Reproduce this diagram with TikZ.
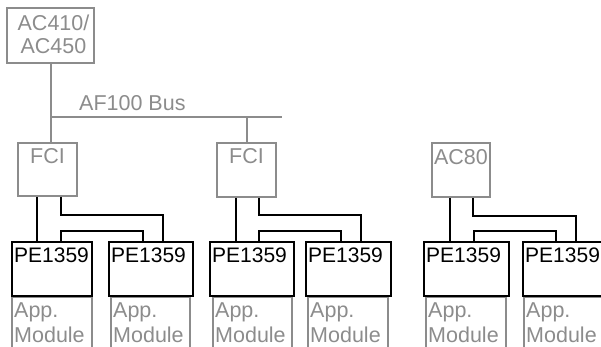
\documentclass[tikz,border=0pt]{standalone}
\usepackage{fontspec}
\setmainfont{Liberation Sans}
\definecolor{gline}{RGB}{140,140,140}
\begin{document}
\begin{tikzpicture}[x=1pt,y=-1pt,
  gbox/.style={draw=gline,line width=1.7pt,inner sep=0pt},
  kbox/.style={draw=black,line width=2pt,inner sep=0pt},
  gconn/.style={draw=gline,line width=1.7pt},
  conn/.style={draw=black,line width=2pt},
  gtxt/.style={text=gline,inner sep=0pt,font=\fontsize{21.5}{25}\selectfont},
  ktxt/.style={text=black,inner sep=0pt,font=\fontsize{21}{25}\selectfont}]
\useasboundingbox (0,0) rectangle (601,346);
% gray controller boxes
\node[gbox,minimum width=87pt,minimum height=55pt] (ac410) at (50.5,35.5) {};
\node[gbox,minimum width=59pt,minimum height=53pt] (fci1) at (47.5,169.5) {};
\node[gbox,minimum width=59pt,minimum height=54pt] (fci2) at (246.5,170) {};
\node[gbox,minimum width=58pt,minimum height=54pt] (ac80) at (461,170) {};
\node[gtxt,anchor=base] (t410) at (53.5,30) {AC410/};
\node[gtxt,anchor=base] (t450) at (53.5,53) {AC450};
\node[gtxt,anchor=base] (tfci1) at (47.5,163) {FCI};
\node[gtxt,anchor=base] (tfci2) at (246.5,163) {FCI};
\node[gtxt,anchor=base] (tac80) at (461,164) {AC80};
% bus
\coordinate (busL) at (51,117);
\coordinate (busR) at (282,117);
\draw[gconn] (51,0 |- ac410.south) -- (51,0 |- fci1.north);
\draw[gconn] (busL) -- (busR);
\draw[gconn] (247,0 |- busL) -- (247,0 |- fci2.north);
\node[gtxt,anchor=base west] (bus) at (79,110) {AF100 Bus};
% app module boxes (open at bottom)
\foreach \n/\l/\r in {1/12/92,2/111/190,3/213/292,4/308/388,5/426/506,6/524/612}{
  \draw[gconn] (\l,360) -- (\l,297) -- (\r,297) -- (\r,360);
  \node[gtxt,anchor=base west] (app\n) at (\l+2,317) {App.};
  \node[gtxt,anchor=base west] (mod\n) at (\l+2,342) {Module};
}
% PE1359 boxes
\foreach \n/\l/\r/\t in {1/11/91/14,2/108/192/111,3/209/293/212,4/305/390/308,5/423/508/426,6/522/607/525}{
  \node[kbox,anchor=north west,minimum width={\r-\l},minimum height=54pt] (pe\n) at (\l,241) {};
  \node[ktxt,anchor=base west] (tpe\n) at (\t,262) {PE1359};
}
% connectors FCI1
\draw[conn] (37,0 |- fci1.south) -- (37,0 |- pe1.north);
\draw[conn] (61,0 |- fci1.south) |- (163,215) -- (163,0 |- pe2.north);
\draw[conn] (61,0 |- pe1.north) |- (143,231) -- (143,0 |- pe2.north);
% connectors FCI2
\draw[conn] (236,0 |- fci2.south) -- (236,0 |- pe3.north);
\draw[conn] (259,0 |- fci2.south) |- (361,215) -- (361,0 |- pe4.north);
\draw[conn] (259,0 |- pe3.north) |- (341,231) -- (341,0 |- pe4.north);
% connectors AC80
\draw[conn] (450,0 |- ac80.south) -- (450,0 |- pe5.north);
\draw[conn] (473,0 |- ac80.south) |- (576,216) -- (576,0 |- pe6.north);
\draw[conn] (474,0 |- pe5.north) |- (556,231) -- (556,0 |- pe6.north);
\end{tikzpicture}
\end{document}
